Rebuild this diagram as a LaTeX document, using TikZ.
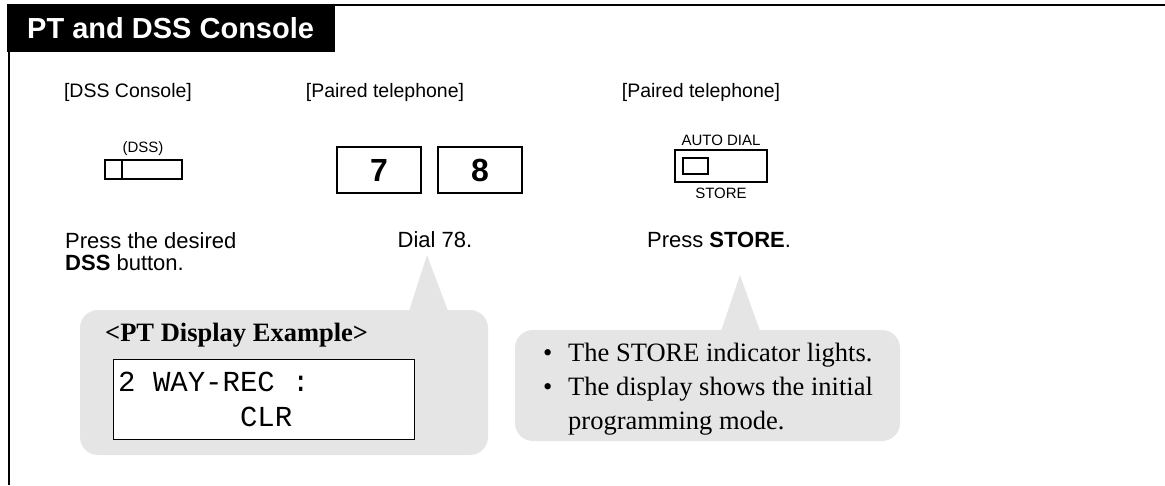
\documentclass[tikz,border=0pt]{standalone}
\usepackage{fontspec}
\setmainfont{Liberation Serif}
\setsansfont{Liberation Sans}
\setmonofont{Liberation Mono}
\usetikzlibrary{positioning}
\begin{document}
\begin{tikzpicture}[x=1pt,y=-1pt,font=\sffamily]
\tikzstyle{lbl}=[font=\sffamily\fontsize{19.5}{23}\selectfont,inner sep=0pt]
\tikzstyle{instr}=[font=\sffamily\fontsize{22}{22}\selectfont,inner sep=0pt]
\tikzstyle{tiny}=[font=\sffamily\fontsize{15}{18}\selectfont,inner sep=0pt]
\tikzstyle{btn}=[draw,line width=2pt,inner sep=0pt]
\tikzstyle{key}=[btn,minimum width=84pt,minimum height=46pt,font=\sffamily\bfseries\fontsize{32}{36}\selectfont]
\tikzstyle{callout}=[fill=black!10,rounded corners=18pt]
\tikzstyle{note}=[font=\rmfamily\fontsize{26.5}{34}\selectfont,inner sep=0pt]
\useasboundingbox (0,0) rectangle (1165,485);
\fill (7,4) rectangle (335,52);
\node[anchor=west,text=white,font=\sffamily\bfseries\fontsize{29}{32}\selectfont,inner sep=0pt] (title) at (27,28) {PT and DSS Console};
\draw[line width=2.5pt] (335,5) -- (1165,5);
\draw[line width=2.5pt] (9,52) -- (9,485);
\foreach \x/\t/\n in {128/DSS Console/hdss,385/Paired telephone/hkey,701/Paired telephone/hstore} \node[lbl] (\n) at (\x,92) {[\t]};
\node[tiny] (dsslbl) at (143,149) {(DSS)};
\node[btn,minimum width=77pt,minimum height=19pt] (dss) at (143.5,169.5) {};
\draw[line width=2pt] ([xshift=18pt]dss.north west) -- ([xshift=18pt]dss.south west);
\foreach \x/\n in {379/7,480/8} \node[key] (k\n) at (\x,170) {\n};
\node[tiny] (autolbl) at (721,140) {AUTO DIAL};
\node[btn,minimum width=92pt,minimum height=32pt] (store) at (721,166) {};
\node[btn,minimum width=25pt,minimum height=16pt,anchor=west] (lamp) at ([xshift=8pt]store.west) {};
\node[tiny] (storelbl) at (721,193) {STORE};
\node[instr,anchor=north west,align=left] (step1) at (65,232) {Press the desired\\\textbf{DSS} button.};
\node[instr] (step2) at (435,240) {Dial 78.};
\node[instr] (step3) at (719,240) {Press \textbf{STORE}.};
\fill[callout] (80,310) rectangle (488,455);
\fill[black!10] (409,311) -- (427,255) -- (448,311) -- cycle;
\fill[callout] (515,330) rectangle (900,441);
\fill[black!10] (721,331) -- (740,275) -- (760,331) -- cycle;
\node[note,anchor=west,font=\rmfamily\bfseries\fontsize{26.5}{30}\selectfont] (dsphead) at (105,335) {<PT Display Example>};
\node[draw,fill=white,line width=1pt,minimum width=301pt,minimum height=80pt,inner sep=0pt] (lcd) at (263.5,399) {};
\node[anchor=west,font=\ttfamily\fontsize{29}{35}\selectfont,align=left,inner sep=0pt] (lcdtext) at (118,399) {2 WAY-REC :\\\phantom{0000000}CLR};
\node[note,anchor=north west,align=left] (notes) at (543,343) {\makebox[25pt][l]{\textbullet}The STORE indicator lights.\\\makebox[25pt][l]{\textbullet}The display shows the initial\\\hspace*{25pt}programming mode.};
\end{tikzpicture}
\end{document}
